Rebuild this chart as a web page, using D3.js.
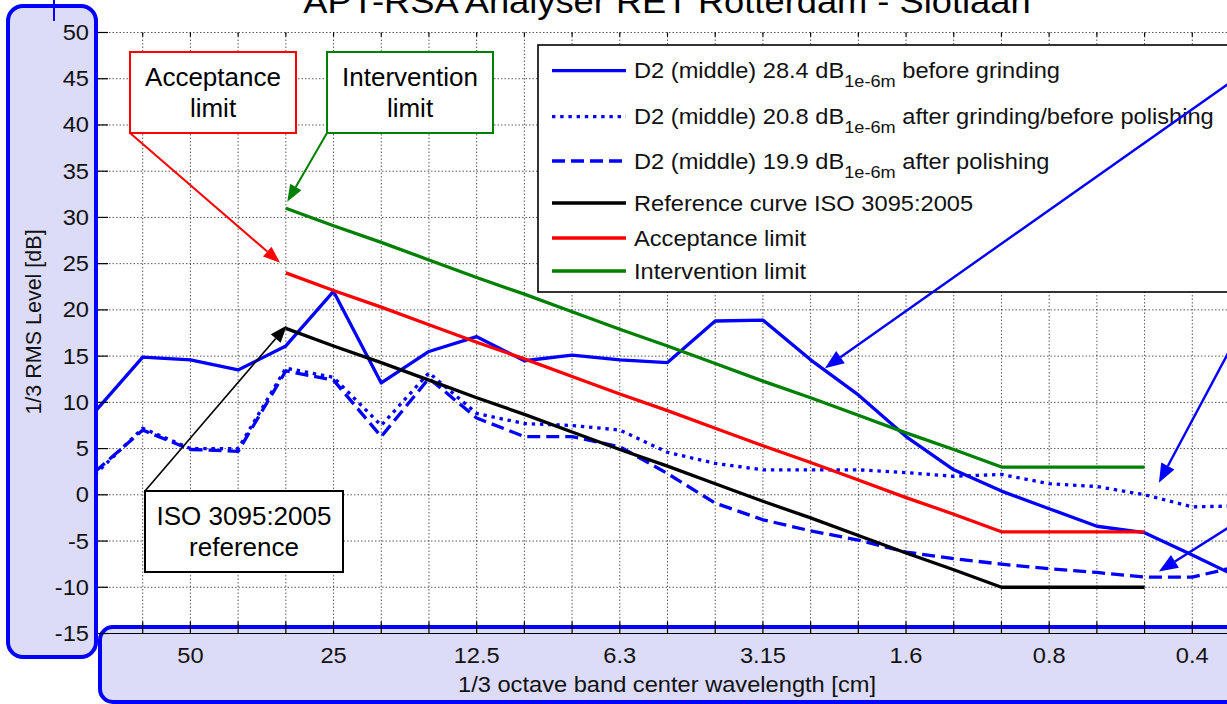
<!DOCTYPE html>
<html><head><meta charset="utf-8">
<script src="https://cdn.jsdelivr.net/npm/d3@7"></script>
<style>
html,body{margin:0;padding:0;background:#fff;overflow:hidden}
svg{display:block;font-family:"Liberation Sans",Arial,sans-serif}
text{white-space:pre}
</style></head><body>
<svg id="chart" width="1227" height="704"></svg>
<script>
// 1/3 octave band centre wavelengths [cm]
const bands = ["80","63","50","40","31.5","25","20","16","12.5","10","8","6.3","5","4","3.15","2.5","2","1.6","1.25","1","0.8","0.63","0.5","0.4","0.315"];
const xTickLabels = ["50","25","12.5","6.3","3.15","1.6","0.8","0.4"];
const yTickValues = [-15,-10,-5,0,5,10,15,20,25,30,35,40,45,50];

// D2 (middle) roughness spectra [dB re 1e-6 m]
const beforeGrinding = [9.0,14.9,14.6,13.5,16.1,22.0,12.1,15.5,17.1,14.5,15.1,14.6,14.3,18.8,18.9,14.6,10.8,6.3,2.7,0.4,-1.5,-3.4,-4.1,-6.5,-9.0];
const afterGrinding  = [2.2,7.2,5.0,5.0,13.7,12.7,7.5,13.2,8.8,7.7,7.5,7.0,4.6,3.4,2.7,2.7,2.7,2.4,2.0,2.2,1.2,0.9,0.0,-1.3,-1.2];
const afterPolishing = [2.5,7.0,4.9,4.7,13.4,12.4,6.3,12.6,8.3,6.3,6.3,5.2,2.3,-0.9,-2.7,-3.9,-4.9,-6.2,-6.9,-7.5,-8.0,-8.4,-8.9,-8.9,-7.7];

// Limit curves (null = band not covered)
const isoReference   = [null,null,null,null,18.0,16.1,14.3,12.4,10.5,8.7,6.8,4.9,3.1,1.2,-0.7,-2.5,-4.4,-6.3,-8.1,-10.0,-10.0,-10.0,-10.0,null,null];
const acceptance     = [null,null,null,null,24.0,22.1,20.3,18.4,16.5,14.7,12.8,10.9,9.1,7.2,5.3,3.5,1.6,-0.3,-2.1,-4.0,-4.0,-4.0,-4.0,null,null];
const intervention   = [null,null,null,null,31.0,29.1,27.3,25.4,23.5,21.7,19.8,17.9,16.1,14.2,12.3,10.5,8.6,6.7,4.9,3.0,3.0,3.0,3.0,null,null];

const series = [
  {name:"D2 (middle) 28.4 dB", sub:"1e-6m", tail:" before grinding", values:beforeGrinding, color:"#0000ff", dash:null},
  {name:"D2 (middle) 20.8 dB", sub:"1e-6m", tail:" after grinding/before polishing", values:afterGrinding, color:"#0000ff", dash:"3.4,4.8"},
  {name:"D2 (middle) 19.9 dB", sub:"1e-6m", tail:" after polishing", values:afterPolishing, color:"#0000ff", dash:"13,6"},
  {name:"Reference curve ISO 3095:2005", values:isoReference, color:"#000000", dash:null},
  {name:"Acceptance limit", values:acceptance, color:"#ff0000", dash:null},
  {name:"Intervention limit", values:intervention, color:"#008000", dash:null}
];

const svg = d3.select("#chart");
const x = d3.scalePoint().domain(bands).range([95, 1240]);
const y = d3.scaleLinear().domain([-15, 50]).range([633.5, 32.5]);
const xAt = i => x(bands[0]) + i * x.step();   // fractional band position
const SX = 1.1;                                  // horizontal text stretch

function stretchedText(parent, px, py, str, size, anchor, fill) {
  return parent.append("g").attr("transform", `translate(${px},${py}) scale(${SX},1)`)
    .append("text").attr("font-size", size).attr("text-anchor", anchor)
    .attr("fill", fill || "#111").text(str);
}

// ---- grid ----
const grid = svg.append("g").attr("stroke", "#000").attr("stroke-opacity", 0.65)
  .attr("stroke-dasharray", "1.5,2").attr("stroke-width", 1);
grid.selectAll("line.v").data(bands.slice(1)).join("line")
  .attr("x1", d => x(d)).attr("x2", d => x(d)).attr("y1", y(50)).attr("y2", y(-15));
grid.selectAll("line.h").data(yTickValues).join("line")
  .attr("x1", x(bands[0])).attr("x2", 1240).attr("y1", d => y(d)).attr("y2", d => y(d));

// ticks on top edge
svg.append("g").attr("stroke", "#000").attr("stroke-width", 1.2)
  .selectAll("line").data(bands.slice(1)).join("line")
  .attr("x1", d => x(d)).attr("x2", d => x(d)).attr("y1", y(50)).attr("y2", y(50) + 4);

// ---- title ----
stretchedText(svg, 667, 13, "APT-RSA Analyser RET Rotterdam - Slotlaan", 33, "middle", "#000");

// ---- data lines ----
const line = d3.line().defined(d => d.v != null).x(d => x(d.b)).y(d => y(d.v));
const lines = svg.append("g").attr("fill", "none").attr("stroke-linejoin", "round");
series.forEach(s => {
  lines.append("path")
    .datum(s.values.map((v, i) => ({b: bands[i], v})))
    .attr("d", line).attr("stroke", s.color).attr("stroke-width", 3.3)
    .attr("stroke-dasharray", s.dash);
});

// ---- legend ----
const lg = svg.append("g");
lg.append("rect").attr("x", 538).attr("y", 45).attr("width", 720).attr("height", 247)
  .attr("fill", "#fff").attr("stroke", "#000").attr("stroke-width", 1.6);
const rowY = [70.7, 116.7, 161, 203, 238, 271];
series.forEach((s, k) => {
  const ry = rowY[k];
  lg.append("line").attr("x1", 552).attr("x2", 626).attr("y1", ry).attr("y2", ry)
    .attr("stroke", s.color).attr("stroke-width", 3.3).attr("stroke-dasharray", s.dash);
  const t = lg.append("g").attr("transform", `translate(634,${ry + 7.5}) scale(${SX},1)`)
    .append("text").attr("font-size", 21.5).attr("fill", "#111");
  t.append("tspan").text(s.name);
  if (s.sub) {
    t.append("tspan").attr("dy", 9).attr("font-size", 16.5).text(s.sub);
    t.append("tspan").attr("dy", -9).text(s.tail);
  }
});

// ---- annotations ----
function arrow(x1, y1, x2, y2, color, width, hl, hw) {
  const a = Math.atan2(y2 - y1, x2 - x1);
  const bx = x2 - hl * Math.cos(a), by = y2 - hl * Math.sin(a);
  const g = svg.append("g");
  g.append("line").attr("x1", x1).attr("y1", y1).attr("x2", bx).attr("y2", by)
    .attr("stroke", color).attr("stroke-width", width);
  const px = -Math.sin(a) * hw / 2, py = Math.cos(a) * hw / 2;
  g.append("polygon").attr("points",
    `${x2},${y2} ${bx + px},${by + py} ${bx - px},${by - py}`).attr("fill", color);
}
function box(x0, y0, w, h, color, lines2) {
  svg.append("rect").attr("x", x0).attr("y", y0).attr("width", w).attr("height", h)
    .attr("fill", "#fff").attr("stroke", color).attr("stroke-width", 2);
  lines2.forEach((str, k) => svg.append("text")
    .attr("x", x0 + w / 2).attr("y", y0 + 34 + k * 31)
    .attr("font-size", 26).attr("text-anchor", "middle").attr("fill", "#000").text(str));
}
box(130, 52, 166, 81, "#ff0000", ["Acceptance", "limit"]);
arrow(130, 133, xAt(3.88), y(25.1), "#ff0000", 2, 17, 13);
box(327, 52, 166, 81, "#008000", ["Intervention", "limit"]);
arrow(327, 133, xAt(4.03), y(31.7), "#008000", 2, 17, 13);
box(145, 491, 198, 81, "#000000", ["ISO 3095:2005", "reference"]);
arrow(145, 491, xAt(4.02), y(18.3), "#000000", 1.6, 17, 13);

// pointers to the measured spectra from the right-hand side
arrow(1262, 60, xAt(15.3), y(13.7), "#0000ff", 2.4, 19, 15);
arrow(1242, 327, xAt(22.3), y(1.3), "#0000ff", 2.4, 19, 15);
arrow(1242, 519, xAt(22.3), y(-8.3), "#0000ff", 2.4, 19, 15);

// ---- axis panels ----
svg.append("rect").attr("x", 8).attr("y", 6).attr("width", 88).attr("height", 651).attr("rx", 15)
  .attr("fill", "#dcdcf9").attr("stroke", "#0000ff").attr("stroke-width", 4);
svg.append("line").attr("x1", 54).attr("x2", 54).attr("y1", 0).attr("y2", 21)
  .attr("stroke", "#0000ff").attr("stroke-width", 2);
svg.append("rect").attr("x", 100).attr("y", 627).attr("width", 1200).attr("height", 75).attr("rx", 13)
  .attr("fill", "#dcdcf9").attr("stroke", "#0000ff").attr("stroke-width", 4);

// y axis ticks and labels
svg.append("g").attr("stroke", "#000").attr("stroke-width", 1.2)
  .selectAll("line").data(yTickValues).join("line")
  .attr("x1", 98).attr("x2", 108).attr("y1", d => y(d)).attr("y2", d => y(d));
yTickValues.forEach(v => stretchedText(svg, 89, y(v) + 7.5, String(v), 21.5, "end"));
svg.append("text").attr("transform", "translate(41,322) rotate(-90)")
  .attr("font-size", 21.5).attr("text-anchor", "middle").attr("fill", "#111")
  .text("1/3 RMS Level [dB]");

// x axis line, ticks and labels
svg.append("line").attr("x1", 100).attr("x2", 1240).attr("y1", y(-15)).attr("y2", y(-15))
  .attr("stroke", "#000").attr("stroke-width", 1.2);
svg.append("g").attr("stroke", "#000").attr("stroke-width", 1.2)
  .selectAll("line").data(bands.slice(1)).join("line")
  .attr("x1", d => x(d)).attr("x2", d => x(d)).attr("y1", y(-15) - 12).attr("y2", y(-15));
xTickLabels.forEach(l => stretchedText(svg, x(l), 663, l, 21.5, "middle"));
stretchedText(svg, 667, 692, "1/3 octave band center wavelength [cm]", 21.5, "middle");
</script>
</body></html>
